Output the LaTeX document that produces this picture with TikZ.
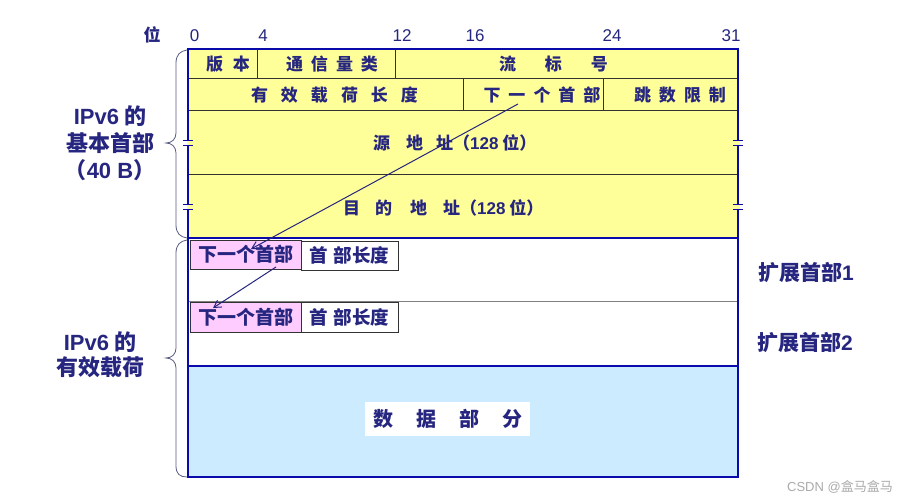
\documentclass[tikz,border=0pt]{standalone}
\usepackage{fontspec}
\setmainfont{Noto Sans CJK SC}
\newfontfamily\lat{Liberation Sans}
\usetikzlibrary{arrows.meta}
\definecolor{navy}{RGB}{38,38,128}
\definecolor{hdryellow}{RGB}{255,255,153}
\definecolor{pinkbox}{RGB}{255,204,255}
\definecolor{datablue}{RGB}{204,235,255}
\definecolor{borderblue}{RGB}{10,10,170}
\definecolor{innerline}{RGB}{50,50,50}
\definecolor{bracecol}{RGB}{90,90,130}
\definecolor{wmgray}{RGB}{170,170,170}
\newcommand{\sk}[1]{\hspace{#1pt}}
\begin{document}
\begin{tikzpicture}[x=1pt,y=-1pt,
  txt/.style={text=navy,inner sep=0pt,font=\bfseries\fontsize{17}{17}\selectfont},
  num/.style={text=navy,inner sep=0pt,font=\lat\fontsize{17}{17}\selectfont},
  side/.style={text=navy,inner sep=0pt,font=\bfseries\fontsize{22}{22}\selectfont},
  ext/.style={text=navy,inner sep=0pt,font=\bfseries\fontsize{21}{21}\selectfont},
  thinline/.style={line width=0.8pt,draw=innerline},
  thickline/.style={line width=2pt,draw=borderblue},
  bracepath/.style={line width=0.8pt,draw=bracecol},
  ptr/.style={line width=1pt,draw=navy,-{Straight Barb[length=7pt,width=8pt]}},
  hbox/.style={draw=innerline,line width=0.8pt,inner sep=0pt,text=navy,font=\bfseries\fontsize{19}{19}\selectfont}
]
\useasboundingbox (0,0) rectangle (905,500);
\fill[white] (0,0) rectangle (905,500);

% fills
\fill[hdryellow] (188,49) rectangle (738,238);
\fill[datablue] (188,366) rectangle (738,477);

% inner thin lines
\draw[thinline] (188,78) -- (738,78);
\draw[thinline] (188,110) -- (738,110);
\draw[thinline] (188,174) -- (738,174);
\draw[thinline] (257,49) -- (257,78);
\draw[thinline] (395,49) -- (395,78);
\draw[thinline] (463,78) -- (463,110);
\draw[thinline] (603,78) -- (603,110);
\draw[line width=0.8pt,draw=gray] (188,301) -- (738,301);

% borders
\draw[thickline] (187,49) -- (739,49);
\draw[thickline] (188,48) -- (188,478);
\draw[thickline] (738,48) -- (738,478);
\draw[thickline] (188,238) -- (738,238);
\draw[thickline] (188,366) -- (738,366);
\draw[thickline] (187,477) -- (739,477);

% break marks
\foreach \bx in {188,738}{
  \foreach \by in {143,207}{
    \fill[hdryellow] (\bx-1.5,\by-2) rectangle (\bx+1.5,\by+2);
    \draw[line width=1.2pt,draw=borderblue] (\bx-5,\by-2.5) -- (\bx+5,\by-2.5);
    \draw[line width=1.2pt,draw=borderblue] (\bx-5,\by+2.5) -- (\bx+5,\by+2.5);
  }
}

% bit scale
\node[txt] (wei) at (152,35) {位};
\node[num] (b0) at (194.5,36) {0};
\node[num] (b4) at (263,36) {4};
\node[num] (b12) at (402,36) {12};
\node[num] (b16) at (475,36) {16};
\node[num] (b24) at (612,36) {24};
\node[num] (b31) at (731,36) {31};

% header fields
\node[txt] (ver) at (228,64) {版\sk{10}本};
\node[txt] (tc) at (332,64) {通\sk{8}信\sk{8}量\sk{8}类};
\node[txt] (fl) at (553.5,64) {流\sk{29}标\sk{29}号};
\node[txt] (pl) at (334.5,95) {有\sk{13}效\sk{13}载\sk{13}荷\sk{13}长\sk{13}度};
\node[txt] (nh) at (542,95) {下\sk{8}一\sk{8}个\sk{8}首\sk{8}部};
\node[txt] (hop) at (680,95) {跳\sk{8}数\sk{8}限\sk{8}制};
\node[txt,anchor=west] (src) at (373,143) {源\sk{16}地\sk{13}址（{\lat\bfseries 128} 位）};
\node[txt,anchor=west] (dst) at (343,208) {目\sk{15}的\sk{18}地\sk{16}址（{\lat\bfseries 128} 位）};

% extension header boxes
\node[hbox,fill=pinkbox,minimum width=111,minimum height=29] (nh1) at (245.5,254.5) {下一个首部};
\node[hbox,fill=white,minimum width=97,minimum height=29,font=\bfseries\fontsize{18.5}{18.5}\selectfont] (hl1) at (349.5,255.5) {首\sk{6}部长度};
\node[hbox,fill=pinkbox,minimum width=111,minimum height=30] (nh2) at (245.5,317) {下一个首部};
\node[hbox,fill=white,minimum width=97,minimum height=30,font=\bfseries\fontsize{18.5}{18.5}\selectfont] (hl2) at (349.5,317.5) {首\sk{6}部长度};

% data part
\node[fill=white,inner sep=0pt,minimum width=165,minimum height=34,text=navy,font=\bfseries\fontsize{20}{20}\selectfont] (data) at (447.5,419) {数\sk{23}据\sk{23}部\sk{23}分};

% pointers
\coordinate (a1s) at (518,104);
\coordinate (a1e) at (251,249);
\coordinate (a2s) at (276,267);
\coordinate (a2e) at (213,308);
\draw[ptr] (a1s) -- (a1e);
\draw[ptr] (a2s) -- (a2e);

% braces
\draw[bracepath] (187,50) .. controls (180,51) and (176,55) .. (176,63) -- (176,133) .. controls (176,139) and (172,143) .. (166,143) .. controls (172,143) and (176,147) .. (176,153) -- (176,225) .. controls (176,233) and (180,237) .. (187,238);
\draw[bracepath] (187,240) .. controls (180,241) and (176,245) .. (176,253) -- (176,348) .. controls (176,354) and (172,358) .. (166,358) .. controls (172,358) and (176,362) .. (176,368) -- (176,466) .. controls (176,474) and (180,477) .. (187,477);

% left labels
\node[side] (l1) at (110,116) {{\lat\bfseries IPv6} 的};
\node[side] (l2) at (110,143) {基本首部};
\node[side] (l3) at (110,170) {（{\lat\bfseries 40 B}）};
\node[side] (l4) at (100,342) {{\lat\bfseries IPv6} 的};
\node[side] (l5) at (100,367) {有效载荷};

% right labels
\node[ext] (e1) at (806,273) {扩展首部{\lat\bfseries 1}};
\node[ext] (e2) at (805,343) {扩展首部{\lat\bfseries 2}};

% watermark
\node[inner sep=0pt,anchor=east,text=wmgray,font=\fontsize{13}{13}\selectfont] (wm) at (893,487) {{\lat CSDN @}盒马盒马};
\end{tikzpicture}
\end{document}
